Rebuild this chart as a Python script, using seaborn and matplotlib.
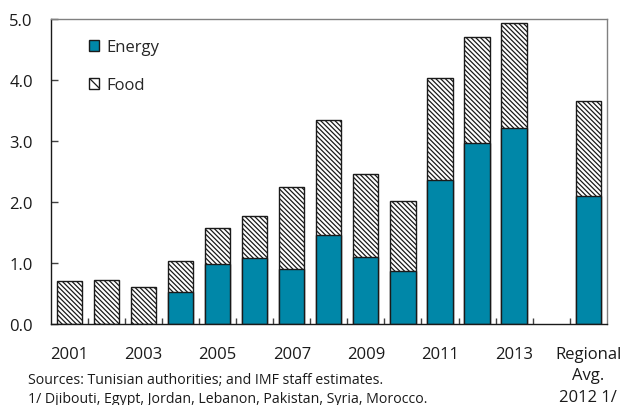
import numpy as np
import pandas as pd
import matplotlib
matplotlib.use("Agg")
import matplotlib.pyplot as plt
from matplotlib.patches import Patch
import seaborn as sns

# Category slots: 2001-2013, an empty gap, then the regional average
categories = ["2001", "2002", "2003", "2004", "2005", "2006", "2007",
              "2008", "2009", "2010", "2011", "2012", "2013", " ",
              "Regional\nAvg.\n2012 1/"]
tick_labels = ["2001", "", "2003", "", "2005", "", "2007",
               "", "2009", "", "2011", "", "2013", "",
               "Regional\nAvg.\n2012 1/"]
energy = [0.0, 0.0, 0.0, 0.52, 0.98, 1.08, 0.90, 1.45, 1.10, 0.86,
          2.35, 2.96, 3.21, np.nan, 2.09]
food = [0.70, 0.72, 0.61, 0.51, 0.59, 0.68, 1.34, 1.90, 1.36, 1.16,
        1.68, 1.74, 1.72, np.nan, 1.56]
yticks = [0.0, 1.0, 2.0, 3.0, 4.0, 5.0]

sns.set_theme(style="white")
plt.rcParams["font.family"] = ["Open Sans", "DejaVu Sans"]
plt.rcParams["hatch.linewidth"] = 0.9

df = pd.DataFrame({"cat": categories,
                   "energy": energy,
                   "total": np.array(energy) + np.array(food)})

teal = "#0087A8"
edge = "#1a1a1a"
hatch = "\\" * 7

fig = plt.figure(figsize=(6.21, 4.06), dpi=100)
ax = fig.add_axes([0.082, 0.2, 0.895, 0.751])

# Full stack (food on top) drawn hatched, then the energy part over it
sns.barplot(data=df, x="cat", y="total", order=categories, ax=ax,
            color="white", edgecolor=edge, linewidth=1.0, hatch=hatch,
            width=0.68, saturation=1)
df_energy = df[df["energy"] > 0]
sns.barplot(data=df_energy, x="cat", y="energy", order=categories, ax=ax,
            color=teal, edgecolor=edge, linewidth=1.0,
            width=0.68, saturation=1)

ax.set_xlim(-0.5, len(categories) - 0.5)
ax.set_ylim(0, 5)
ax.set_yticks(yticks)
ax.set_yticklabels([f"{v:.1f}" for v in yticks], fontsize=12, color="#1a1a1a")
ax.set_xlabel("")
ax.set_ylabel("")

ax.set_xticks(range(len(categories)))
ax.set_xticklabels(tick_labels, fontsize=12, color="#1a1a1a", linespacing=1.45,
                   va="top")
ax.set_xticks(np.arange(0.5, len(categories) - 0.5, 1.0), minor=True)
ax.tick_params(axis="x", which="major", length=0, pad=16)
ax.tick_params(axis="x", which="minor", direction="in", length=4, width=1,
               color="#404040", bottom=True)
ax.tick_params(axis="y", which="major", direction="in", length=5, width=1,
               color="#404040", left=True, pad=13)

for side in ["left", "bottom"]:
    ax.spines[side].set_color("#1a1a1a")
    ax.spines[side].set_linewidth(1.0)
for side in ["top", "right"]:
    ax.spines[side].set_color("#808080")
    ax.spines[side].set_linewidth(1.0)

handles = [Patch(facecolor=teal, edgecolor=edge, linewidth=1.0, label="Energy"),
           Patch(facecolor="white", edgecolor=edge, linewidth=1.0,
                 hatch="\\\\\\", label="Food")]
ax.legend(handles=handles, loc="upper left", frameon=False, fontsize=12,
          handlelength=0.62, handleheight=0.62, handletextpad=0.45,
          labelspacing=1.35, borderpad=0, borderaxespad=0,
          bbox_to_anchor=(89 / 621, 1 - 40 / 406), bbox_transform=fig.transFigure)

fig.text(28 / 621, 1 - 381 / 406, "Sources: Tunisian authorities; and IMF staff estimates.",
         fontsize=10.2, va="center", ha="left", color="#1a1a1a")
fig.text(28 / 621, 1 - 400 / 406, "1/ Djibouti, Egypt, Jordan, Lebanon, Pakistan, Syria, Morocco.",
         fontsize=10.2, va="center", ha="left", color="#1a1a1a")

fig.savefig("out.png", dpi=100)
